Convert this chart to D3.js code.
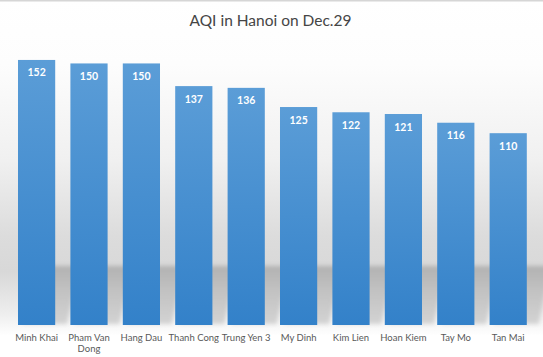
<!DOCTYPE html>
<html>
<head>
<meta charset="utf-8">
<script src="https://cdn.jsdelivr.net/npm/d3@7"></script>
<style>
  html, body { margin: 0; padding: 0; background: #fff; }
  svg { display: block; }
</style>
</head>
<body>
<div id="chart"></div>
<script>
const title = "AQI in Hanoi on Dec.29";
const categories = ["Minh Khai", "Pham Van Dong", "Hang Dau", "Thanh Cong", "Trung Yen 3",
                    "My Dinh", "Kim Lien", "Hoan Kiem", "Tay Mo", "Tan Mai"];
const values = [152, 150, 150, 137, 136, 125, 122, 121, 116, 110];
const yDomain = [0, 160];

const W = 543, H = 357;
const data = categories.map((c, i) => ({ name: c, value: values[i] }));

const svg = d3.select("#chart").append("svg")
  .attr("width", W).attr("height", H);

const defs = svg.append("defs");

// background gradient
const bg = defs.append("linearGradient").attr("id", "bg")
  .attr("x1", 0).attr("y1", 0).attr("x2", 0).attr("y2", 1);
[[0, "#ffffff"], [0.18, "#fdfdfd"], [0.45, "#f0f0f0"], [0.66, "#dcdcdc"],
 [0.76, "#d8d8d8"], [0.88, "#eeeeee"], [0.94, "#ffffff"], [1, "#ffffff"]]
  .forEach(([o, c]) => bg.append("stop").attr("offset", o).attr("stop-color", c));

// bar gradient
const bar = defs.append("linearGradient").attr("id", "barGrad")
  .attr("x1", 0).attr("y1", 0).attr("x2", 0).attr("y2", 1);
bar.append("stop").attr("offset", 0).attr("stop-color", "#5b9dd7");
bar.append("stop").attr("offset", 1).attr("stop-color", "#3381c9");

// shadow gradient
const sh = defs.append("linearGradient").attr("id", "shGrad")
  .attr("x1", 0).attr("y1", 0).attr("x2", 0).attr("y2", 1);
sh.append("stop").attr("offset", 0).attr("stop-color", "#b0b0b0").attr("stop-opacity", 0.95);
sh.append("stop").attr("offset", 0.45).attr("stop-color", "#bdbdbd").attr("stop-opacity", 0.85);
sh.append("stop").attr("offset", 1).attr("stop-color", "#c8c8c8").attr("stop-opacity", 0.75);

const blur = defs.append("filter").attr("id", "blur")
  .attr("x", "-50%").attr("y", "-50%").attr("width", "200%").attr("height", "200%");
blur.append("feGaussianBlur").attr("stdDeviation", 2);

svg.append("rect").attr("width", W).attr("height", H).attr("fill", "url(#bg)");
svg.append("rect").attr("width", W).attr("height", 1.5).attr("fill", "#d6d6d6");

const x = d3.scaleBand()
  .domain(categories)
  .range([10.4, 534.4])
  .paddingInner(0.29)
  .paddingOuter(0.145);

const y = d3.scaleLinear().domain(yDomain).range([325, 46]);

// shadows
const shH = 58, shDx = 24;
svg.append("g").attr("filter", "url(#blur)")
  .selectAll("path").data(data).join("path")
  .attr("d", d => {
    const x0 = x(d.name), x1 = x0 + x.bandwidth(), yb = y(0) - 1;
    return `M${x0 + 4},${yb} L${x1 + 12},${yb} L${x1 + shDx},${yb - shH} L${x0 + shDx},${yb - shH} Z`;
  })
  .attr("fill", "url(#shGrad)");

// bars
svg.append("g").selectAll("rect").data(data).join("rect")
  .attr("x", d => x(d.name))
  .attr("y", d => y(d.value))
  .attr("width", x.bandwidth())
  .attr("height", d => y(0) - y(d.value))
  .attr("fill", "url(#barGrad)");

// value labels
svg.append("g").selectAll("text").data(data).join("text")
  .attr("x", d => x(d.name) + x.bandwidth() / 2)
  .attr("y", d => y(d.value) + 16.5)
  .attr("text-anchor", "middle")
  .attr("font-family", "Lato, 'Open Sans', sans-serif")
  .attr("font-weight", "bold")
  .attr("font-size", 10.5)
  .attr("fill", "#ffffff")
  .text(d => d.value);

// category axis (no line/ticks)
const xAxis = d3.axisBottom(x).tickSize(0).tickPadding(0);
const gx = svg.append("g").attr("transform", `translate(0, ${y(0)})`).call(xAxis);
gx.select(".domain").remove();
gx.selectAll("text")
  .attr("font-family", "Lato, 'Open Sans', sans-serif")
  .attr("font-size", 9.5)
  .attr("fill", "#595959")
  .attr("dy", null)
  .attr("y", 16.3)
  .each(function (d) {
    const t = d3.select(this);
    const words = d.split(" ");
    t.text(null);
    let line = [];
    let tspan = t.append("tspan").attr("x", 0).attr("y", 16.3);
    let lineNo = 0;
    words.forEach(w => {
      line.push(w);
      tspan.text(line.join(" "));
      if (tspan.node().getComputedTextLength() > 56 && line.length > 1) {
        line.pop();
        tspan.text(line.join(" "));
        line = [w];
        lineNo++;
        tspan = t.append("tspan").attr("x", 0).attr("y", 16.3 + lineNo * 11).text(w);
      }
    });
  });

// title
svg.append("text")
  .attr("x", 270.5)
  .attr("y", 26)
  .attr("text-anchor", "middle")
  .attr("font-family", "Lato, 'Open Sans', sans-serif")
  .attr("font-size", 15.5)
  .attr("fill", "#454545")
  .text(title);
</script>
</body>
</html>
